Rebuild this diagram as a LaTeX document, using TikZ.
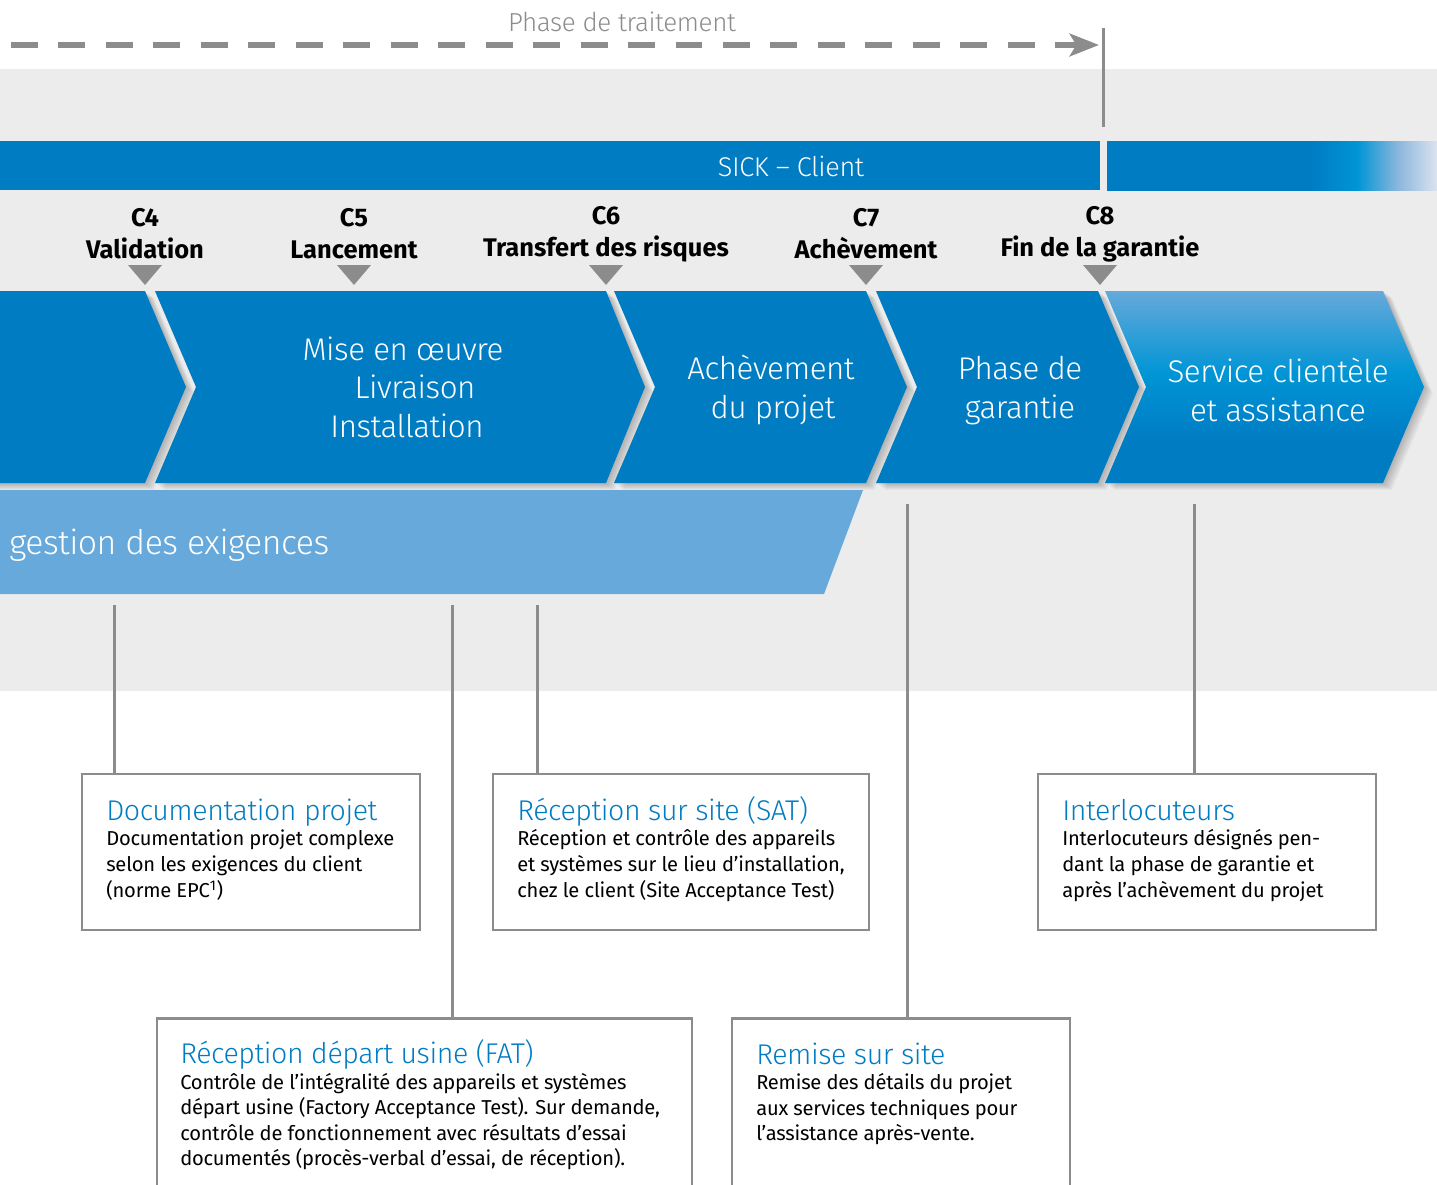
\documentclass[tikz,border=0pt]{standalone}
\usepackage{fontspec}
\setmainfont{Fira Sans}[UprightFont=* Light,BoldFont=* Bold,UprightFeatures={LetterSpace=-1.5}]
\newfontfamily\bodyfont{Fira Sans}[LetterSpace=-1]
\usetikzlibrary{arrows.meta,calc}
\definecolor{bgg}{HTML}{ECECEC}
\definecolor{mainblue}{HTML}{007CC3}
\definecolor{lightblue}{HTML}{66A9DA}
\definecolor{midblue}{HTML}{0095D5}
\definecolor{linegray}{HTML}{8C8C8C}
\definecolor{fadeend}{HTML}{DBE3EF}
\definecolor{fademid}{HTML}{8AB6DC}
\pgfdeclarehorizontalshading{barfade}{100bp}{color(0bp)=(mainblue); color(56bp)=(mainblue); color(62.9bp)=(midblue); color(69bp)=(fademid); color(75bp)=(fadeend); color(100bp)=(fadeend)}
\pgfdeclareverticalshading{chevfade}{100bp}{color(0bp)=(mainblue); color(36bp)=(mainblue); color(53.5bp)=(midblue); color(75bp)=(lightblue); color(100bp)=(lightblue)}
\newcommand{\fs}[1]{\fontsize{#1}{#1}\selectfont}
\newcommand{\chevshadow}[1]{%
  \foreach \d in {1,...,9}{
    \begin{scope}[shift={(\d,\d*0.75)}]
      \fill[black,opacity=0.028] #1;
    \end{scope}
  }}
\tikzset{
  conn/.style={draw=linegray,line width=2.1pt},
  chevtext/.style={text=white,font=\fs{23.5},anchor=base},
  mile/.style={text=black,font=\fs{19.1}\bfseries,anchor=base},
  marker/.style={fill=linegray},
  infobox/.style={draw=linegray,line width=2.1pt,fill=white,rectangle,anchor=north west,inner sep=0pt,outer sep=0pt},
  boxtitle/.style={text=mainblue,font=\fs{21.4},anchor=base west,inner sep=0pt},
  boxbody/.style={text=black,font=\bodyfont\fs{15.1},anchor=base west,inner sep=0pt},
}
\begin{document}
\begin{tikzpicture}[x=0.75pt,y=-0.75pt]
\useasboundingbox (0,0) rectangle (1437,1184);
\clip (0,0) rectangle (1437,1184);
% background band
\fill[bgg] (0,69) rectangle (1437,691);
% top bar
\fill[mainblue] (0,141) rectangle (1100,190);
\shade[shading=barfade] (1107,141.5) rectangle (1437,190.7);
\node[text=white,font=\fs{20.3},anchor=base,inner sep=0pt] (sick) at (791,176) {SICK – Client};
% process arrow
\node[text=linegray,font=\fs{19.5},anchor=base,inner sep=0pt] (phase) at (622,32) {Phase de traitement};
\coordinate (arrowstart) at (11,45);
\coordinate (arrowend) at (1099,45);
\coordinate (limtop) at (1103.5,28);
\coordinate (limbot) at (1103.5,127);
\draw[conn,line width=4pt,dash pattern=on 20.2pt off 15.4pt] (arrowstart) -- (1072,45);
\draw[conn,line width=4pt,-{Stealth[length=22pt,width=17pt,inset=5pt]}] (1056,45) -- (arrowend);
\draw[conn] (limtop) -- (limbot);
% chevrons
\def\cA{(-20,291) -- (145,291) -- (186,387) -- (145,483) -- (-20,483) -- cycle}
\def\cB{(155,291) -- (606,291) -- (645,387) -- (606,483) -- (155,483) -- (196,387) -- cycle}
\def\cC{(614,291) -- (866,291) -- (907,387) -- (866,483) -- (614,483) -- (655,387) -- cycle}
\def\cD{(876,291) -- (1098,291) -- (1139,387) -- (1098,483) -- (876,483) -- (917,387) -- cycle}
\def\cE{(1105,291) -- (1383,291) -- (1424,387) -- (1383,483) -- (1105,483) -- (1146,387) -- cycle}
\chevshadow{\cA}\chevshadow{\cB}\chevshadow{\cC}\chevshadow{\cD}\chevshadow{\cE}
\fill[mainblue] \cA; \fill[mainblue] \cB; \fill[mainblue] \cC; \fill[mainblue] \cD;
\shade[shading=chevfade] \cE;
% requirements band
\fill[lightblue] (-5,490) -- (863,490) -- (824,594) -- (-5,594) -- cycle;
\node[text=white,font=\fs{25.4},anchor=base west,inner sep=0pt] (req) at (9,554) {gestion des exigences};
% chevron text
\node[chevtext,inner sep=0pt] (t1) at (403,360) {Mise en œuvre};
\node[chevtext,inner sep=0pt] (t2) at (415,398) {Livraison};
\node[chevtext,inner sep=0pt] (t3) at (407,437.5) {Installation};
\node[chevtext,inner sep=0pt] (t4) at (771,379) {Achèvement};
\node[chevtext,inner sep=0pt] (t5) at (773,418) {du projet};
\node[chevtext,inner sep=0pt] (t6) at (1020,379) {Phase de};
\node[chevtext,inner sep=0pt] (t7) at (1020,418) {garantie};
\node[chevtext,inner sep=0pt] (t8) at (1278,382) {Service clientèle};
\node[chevtext,inner sep=0pt] (t9) at (1278,421) {et assistance};
% milestones
\foreach \n/\x/\by/\a/\b in {4/145/226/C4/Validation,5/354/226/C5/Lancement,6/606/224/C6/Transfert des risques,7/866/226/C7/Achèvement,8/1100/224/C8/Fin de la garantie}{
  \node[mile,inner sep=0pt] (m\n a) at (\x,\by) {\a};
  \node[mile,inner sep=0pt] (m\n b) at (\x,\by+32) {\b};
  \fill[marker] (\x-17,265) -- (\x+17,265) -- (\x,285) -- cycle;
}
% connector free ends
\coordinate (l1) at (114.5,605);
\coordinate (l2) at (452.5,605);
\coordinate (l3) at (537.5,605);
\coordinate (l4) at (907.5,504);
\coordinate (l5) at (1194.5,504);
% boxes
\node[infobox,minimum width=253.5pt,minimum height=117pt] (b1) at (82,774) {};
\node[infobox,minimum width=282pt,minimum height=117pt] (b2) at (493,774) {};
\node[infobox,minimum width=253.5pt,minimum height=117pt] (b3) at (1038,774) {};
\node[infobox,minimum width=401.25pt,minimum height=160pt] (b4) at (157,1018.5) {};
\node[infobox,minimum width=253.5pt,minimum height=160pt] (b5) at (732,1018.5) {};
\draw[conn] (l1) -- (l1 |- b1.north);
\draw[conn] (l2) -- (l2 |- b4.north);
\draw[conn] (l3) -- (l3 |- b2.north);
\draw[conn] (l4) -- (l4 |- b5.north);
\draw[conn] (l5) -- (l5 |- b3.north);
% box text
\node[boxtitle] (h1) at (106,820) {Documentation projet};
\node[boxbody] (a1) at (106,845) {Documentation projet complexe};
\node[boxbody] (a2) at (106,871) {selon les exigences du client};
\node[boxbody] (a3) at (106,897) {(norme EPC\textsuperscript{1})};
\node[boxtitle] (h2) at (517,820) {Réception sur site (SAT)};
\node[boxbody] (c1) at (517,845) {Réception et contrôle des appareils};
\node[boxbody] (c2) at (517,871) {et systèmes sur le lieu d’installation,};
\node[boxbody] (c3) at (517,897) {chez le client (Site Acceptance Test)};
\node[boxtitle] (h3) at (1062,820) {Interlocuteurs};
\node[boxbody] (d1) at (1062,845) {Interlocuteurs désignés pen-};
\node[boxbody] (d2) at (1062,871) {dant la phase de garantie et};
\node[boxbody] (d3) at (1062,897) {après l’achèvement du projet};
\node[boxtitle] (h4) at (180,1063) {Réception départ usine (FAT)};
\node[boxbody] (e1) at (180,1089) {Contrôle de l’intégralité des appareils et systèmes};
\node[boxbody] (e2) at (180,1114) {départ usine (Factory Acceptance Test). Sur demande,};
\node[boxbody] (e3) at (180,1140) {contrôle de fonctionnement avec résultats d’essai};
\node[boxbody] (e4) at (180,1165) {documentés (procès-verbal d’essai, de réception).};
\node[boxtitle] (h5) at (756,1064) {Remise sur site};
\node[boxbody] (f1) at (756,1089) {Remise des détails du projet};
\node[boxbody] (f2) at (756,1115) {aux services techniques pour};
\node[boxbody] (f3) at (756,1140) {l’assistance après-vente.};
\end{tikzpicture}
\end{document}
